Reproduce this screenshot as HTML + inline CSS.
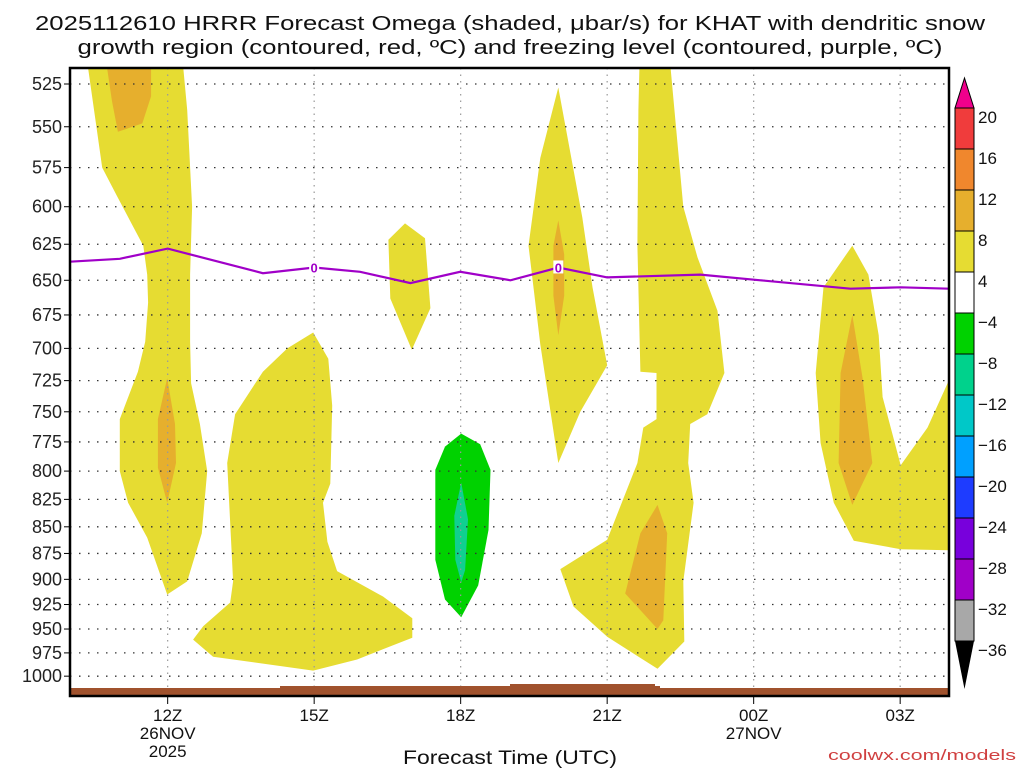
<!DOCTYPE html>
<html><head><meta charset="utf-8"><style>
body{margin:0;background:#fff;}
svg{display:block;font-family:"Liberation Sans","DejaVu Sans",sans-serif;}
</style></head><body>
<svg id="chart" width="1024" height="768" viewBox="0 0 1024 768">
<text x="510" y="30" font-size="20" text-anchor="middle" fill="#111" textLength="950" lengthAdjust="spacingAndGlyphs">2025112610 HRRR Forecast Omega (shaded, μbar/s) for KHAT with dendritic snow</text>
<text x="510" y="54" font-size="20" text-anchor="middle" fill="#111" textLength="865" lengthAdjust="spacingAndGlyphs">growth region (contoured, red, ºC) and freezing level (contoured, purple, ºC)</text>
<g id="shapes"></g>
<g id="grid"></g>
<g id="fz"></g>
<rect x="70" y="688" width="879" height="8" fill="#a0522d"/>
<rect x="280" y="686" width="380" height="3" fill="#a0522d"/>
<rect x="510" y="684" width="145" height="3" fill="#a0522d"/>
<rect x="70" y="68" width="879" height="628" fill="none" stroke="#000" stroke-width="2.5"/>
<g id="axes"></g>
<g id="cbar"></g>
<text x="510" y="764" font-size="19" text-anchor="middle" fill="#111" textLength="214" lengthAdjust="spacingAndGlyphs">Forecast Time (UTC)</text>
<text x="1016" y="760" font-size="15" text-anchor="end" fill="#d04040" textLength="188" lengthAdjust="spacingAndGlyphs">coolwx.com/models</text>
</svg>
<script>
const NS="http://www.w3.org/2000/svg";
const pressureTicks=[525,550,575,600,625,650,675,700,725,750,775,800,825,850,875,900,925,950,975,1000];
const hourTicks=[12,15,18,21,24,27];
const hourLabels=["12Z","15Z","18Z","21Z","00Z","03Z"];
const hourSub=["26NOV","","","","27NOV",""];
const cbarLabels=["20","16","12","8","4","−4","−8","−12","−16","−20","−24","−28","−32","−36"];
const cbarColors=["#f03c3c","#f0872d","#e6af2d","#e6dc32","#ffffff","#00d200","#00d28c","#00c8c8","#00a0ff","#1e3cff","#7800dc","#a000c8","#a8a8a8"];
const yellowA=[[10.37,516],[10.66,575],[10.96,593],[11.29,613],[11.50,626],[11.58,646],[11.60,666],[11.54,695],[11.39,718],[11.02,756],[11.02,800],[11.19,828],[11.58,860],[11.99,915],[12.40,902],[12.70,856],[12.81,800],[12.66,760],[12.48,727],[12.46,695],[12.46,646],[12.50,600],[12.40,540],[12.32,516]];
const orangeA1=[[10.76,516],[11.66,516],[11.66,532],[11.48,548],[10.98,553],[10.86,535]];
const orangeA2=[[11.99,723],[12.15,760],[12.17,793],[11.99,828],[11.80,797],[11.80,756]];
const yellowB=[[14.98,688],[15.29,708],[15.37,745],[15.33,811],[15.18,828],[15.27,864],[15.47,892],[16.41,917],[17.01,939],[17.01,959],[15.88,982],[14.98,994],[12.93,979],[12.52,961],[12.73,947],[13.28,923],[13.34,902],[13.22,793],[13.38,752],[13.95,718],[14.45,700]];
const yellowC=[[16.52,622],[16.86,611],[17.27,621],[17.38,670],[17.0,701],[16.56,663]];
const greenD=[[18.01,768],[18.40,777],[18.61,799],[18.57,853],[18.36,906],[18.01,938],[17.68,920],[17.48,881],[17.48,799],[17.68,779]];
const tealD=[[18.01,810],[18.15,843],[18.09,891],[18.01,903],[17.89,881],[17.87,840]];
const yellowE=[[20.0,527],[20.49,607],[20.70,655],[21.0,713],[20.45,750],[20.0,793],[19.63,697],[19.39,626],[19.63,569]];
const orangeE=[[20.0,609],[20.12,632],[20.12,661],[20.0,690],[19.90,661],[19.90,626]];
const yellowF=[[21.66,516],[22.30,516],[22.56,600],[22.85,634],[23.26,672],[23.40,719],[23.05,752],[22.70,760],[22.66,793],[22.77,828],[22.56,902],[22.58,963],[22.03,992],[21.0,958],[20.31,927],[20.04,890],[21.0,862],[21.62,793],[21.74,763],[22.01,756],[22.01,719],[21.68,718],[21.62,626],[21.64,540]];
const orangeF=[[22.03,830],[22.23,856],[22.15,941],[22.03,950],[21.37,914],[21.68,856]];
const yellowG=[[26.02,626],[26.35,646],[26.56,690],[26.64,738],[27.01,795],[27.56,763],[28.03,722],[28.03,872],[27.01,871],[26.05,863],[25.64,828],[25.37,776],[25.27,719],[25.43,655]];
const orangeG=[[26.02,675],[26.23,723],[26.43,793],[26.02,830],[25.74,793],[25.78,719]];
const freezing=[[10,637],[11.02,635],[12,628],[13.95,645],[15,641],[15.94,644],[16.97,652],[17.99,644],[19.02,650],[20,641],[21.0,648],[22.91,646],[24.14,650],[25.98,656],[27.01,655],[28,656]];
const freezingLabelHours=[15,20];

const X0=70,X1=949,H0=10,H1=28;
const Y525=84,PXLOG=919;
function xs(h){return X0+(h-H0)/(H1-H0)*(X1-X0);}
function ys(p){return Y525+Math.log(p/525)*PXLOG;}
function mk(tag,attrs,parent){const e=document.createElementNS(NS,tag);for(const k in attrs)e.setAttribute(k,attrs[k]);parent.appendChild(e);return e;}
const shapes=document.getElementById('shapes');
function poly(pts,fill,name){
  const e=mk('polygon',{points:pts.map(p=>xs(p[0]).toFixed(1)+','+ys(p[1]).toFixed(1)).join(' '),fill:fill,'stroke-linejoin':'round'},shapes);
  
  
}
const Y="#e6dc32",O="#e6af2d";
poly(yellowA,Y,'omega-yellow-a');poly(orangeA1,O,'omega-orange-a1');poly(orangeA2,O,'omega-orange-a2');
poly(yellowB,Y,'omega-yellow-b');poly(yellowC,Y,'omega-yellow-c');
poly(greenD,"#00d200",'omega-green-d');poly(tealD,"#10d090",'omega-teal-d');
poly(yellowE,Y,'omega-yellow-e');poly(orangeE,O,'omega-orange-e');
poly(yellowF,Y,'omega-yellow-f');poly(orangeF,O,'omega-orange-f');
poly(yellowG,Y,'omega-yellow-g');poly(orangeG,O,'omega-orange-g');
const defsEl=mk('defs',{},document.getElementById('chart'));
const cpEl=mk('clipPath',{id:'pc'},defsEl);mk('rect',{x:X0,y:68,width:X1-X0,height:628},cpEl);
shapes.setAttribute('clip-path','url(#pc)');

const grid=document.getElementById('grid'),axes=document.getElementById('axes');
pressureTicks.forEach(p=>{
  const y=ys(p);
  const l=mk('line',{x1:X0,x2:X1,y1:y,y2:y,stroke:'#333','stroke-width':1.3,'stroke-dasharray':'1.5 7.5'},grid);
  
  
  const t=mk('line',{x1:X0-6,x2:X0,y1:y,y2:y,stroke:'#000','stroke-width':1},axes);
  
  
  const tx=mk('text',{x:X0-8,y:y+6,'font-size':18,'text-anchor':'end',fill:'#222'},axes);
  tx.textContent=p;
  
  
});
hourTicks.forEach((h,i)=>{
  const x=xs(h);
  const l=mk('line',{x1:x,x2:x,y1:68,y2:696,stroke:'#999','stroke-width':1.2,'stroke-dasharray':'1.5 5'},grid);
  
  
  const t=mk('line',{x1:x,x2:x,y1:696,y2:704,stroke:'#000','stroke-width':1},axes);
  
  
  const tx=mk('text',{x:x,y:721,'font-size':17,'text-anchor':'middle',fill:'#111'},axes);
  tx.textContent=hourLabels[i];
  
  
  if(hourSub[i]){
    const s=mk('text',{x:x,y:739,'font-size':17,'text-anchor':'middle',fill:'#111'},axes);
    s.textContent=hourSub[i];
    
    
  }
});
const yr=mk('text',{x:xs(12),y:757,'font-size':17,'text-anchor':'middle',fill:'#111'},axes);
yr.textContent="2025";



const fz=document.getElementById('fz');
const fl=mk('polyline',{points:freezing.map(p=>xs(p[0]).toFixed(1)+','+ys(p[1]).toFixed(1)).join(' '),fill:'none',stroke:'#a000c8','stroke-width':2.2},fz);


freezingLabelHours.forEach(h=>{
  let best=freezing[0];freezing.forEach(p=>{if(Math.abs(p[0]-h)<Math.abs(best[0]-h))best=p;});
  const x=xs(h),y=ys(best[1]);
  const bg=mk('rect',{x:x-5,y:y-7,width:10,height:13,fill:'#fff'},fz);
  
  
  const t=mk('text',{x:x,y:y+5,'font-size':13,'font-weight':'bold','text-anchor':'middle',fill:'#a000c8'},fz);
  t.textContent="0";
  
  
});

const cb=document.getElementById('cbar');
const CX=955,CW=19,CT=108,STEP=41;
const cbTop=mk('polygon',{points:`${CX},${CT} ${CX+CW},${CT} ${CX+CW/2},${CT-30}`,fill:'#f0008c',stroke:'#000','stroke-width':1},cb);


cbarColors.forEach((c,i)=>{
  const r=mk('rect',{x:CX,y:CT+i*STEP,width:CW,height:STEP,fill:c,stroke:'#000','stroke-width':1},cb);
  
  
});
const bY=CT+cbarColors.length*STEP;
const cbBot=mk('polygon',{points:`${CX},${bY} ${CX+CW},${bY} ${CX+CW/2},${bY+48}`,fill:'#000'},cb);


cbarLabels.forEach((s,i)=>{
  const t=mk('text',{x:978,y:CT+i*STEP+15,'font-size':17,fill:'#111'},cb);
  t.textContent=s;
  
  
});
</script>
</body></html>
